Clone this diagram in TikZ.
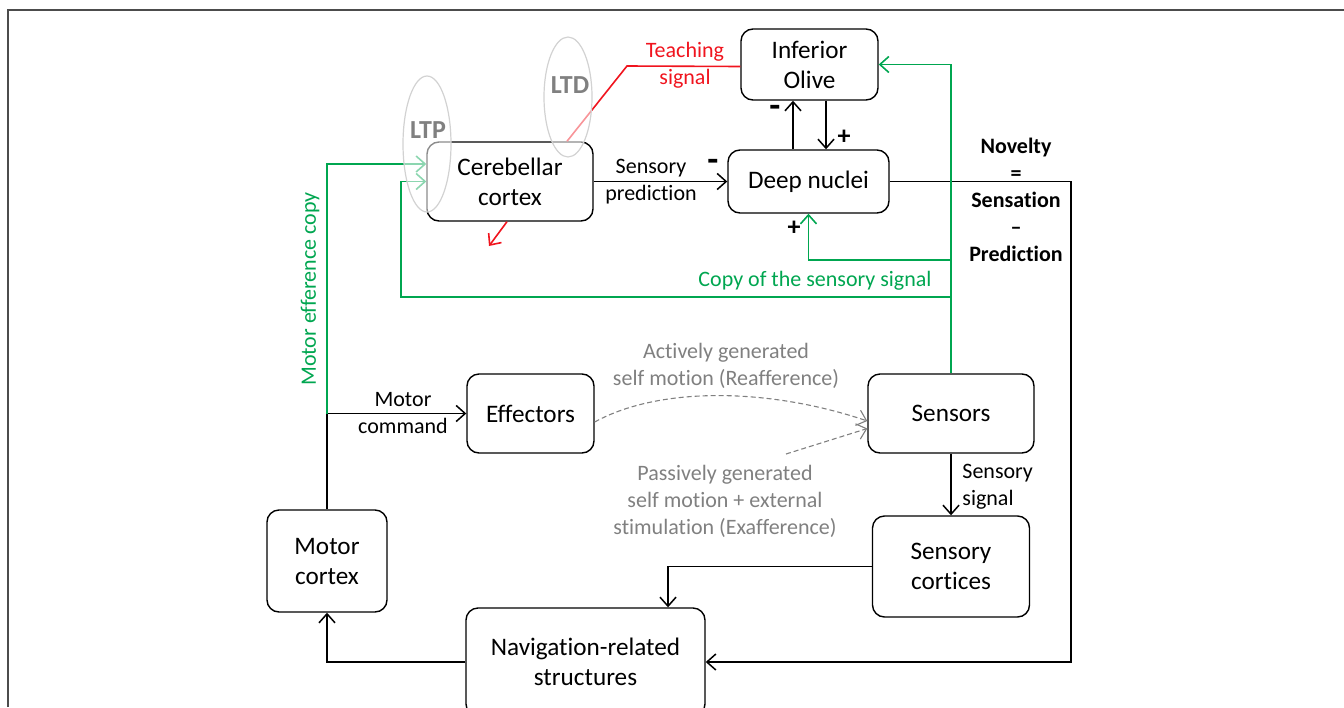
\documentclass[tikz,border=0pt]{standalone}
\usepackage{fontspec}
\setmainfont{Carlito}[Ligatures={TeX,NoCommon}]
\usepackage{tikz}
\usetikzlibrary{arrows.meta, shapes.geometric}
\definecolor{sgreen}{RGB}{0,166,80}
\definecolor{tred}{RGB}{240,20,30}
\definecolor{dgray}{RGB}{128,128,128}

\begin{document}
\begin{tikzpicture}[x=0.5pt, y=-0.5pt,
  >={Straight Barb[length=4.5pt,width=8pt]},
  box/.style={draw, rounded corners=6pt, line width=0.7pt, align=center, inner sep=0pt,
    font=\fontsize{12.6}{15}\selectfont},
  lbl/.style={align=center, inner sep=0pt, font=\fontsize{11}{13.5}\selectfont},
  sgn/.style={inner sep=0pt, font=\bfseries\fontsize{13}{13}\selectfont},
  minus/.style={inner sep=0pt, font=\bfseries\fontsize{18}{18}\selectfont},
  blk/.style={line width=0.75pt},
  grn/.style={sgreen, line width=0.8pt},
  plast/.style={ellipse, draw=gray!35, line width=0.6pt, fill=white, fill opacity=0.55, inner sep=0pt},
  fuzz/.style={dgray, dash pattern=on 2.5pt off 1.5pt, line width=0.55pt}]
\useasboundingbox (0,0) rectangle (1344,707);
\draw[gray!60!black, line width=1pt] (8,707) -- (8,10) -- (1344,10);

% boxes
\node[box, minimum width=68.5pt, minimum height=35.5pt] (io) at (809.5,64.5) {Inferior\\Olive};
\node[box, minimum width=83pt, minimum height=39.5pt] (cc) at (510,181.5) {Cerebellar\\cortex};
\node[box, minimum width=80.5pt, minimum height=31.5pt] (dn) at (808.5,181.5) {Deep nuclei};
\node[box, minimum width=63.5pt, minimum height=39.5pt] (eff) at (530.5,413.5) {Effectors};
\node[box, minimum width=83pt, minimum height=39.5pt] (sens) at (951,413.5) {Sensors};
\node[box, minimum width=78.5pt, minimum height=50.5pt] (scx) at (951,566.5) {Sensory\\cortices};
\node[box, minimum width=60pt, minimum height=51pt] (mcx) at (327,561) {Motor\\cortex};
\node[box, minimum width=119.5pt, minimum height=54pt] (nav) at (585.5,662) {Navigation-related\\structures};

% bend points
\coordinate (upx) at (793,0);
\coordinate (dnx) at (826,0);
\coordinate (gj1) at (951,260);
\coordinate (gj2) at (951,297);
\coordinate (cpl) at (401,297);
\coordinate (mj) at (327,413.5);
\coordinate (rx) at (1071,0);
\coordinate (sx) at (668,0);
\coordinate (tk) at (627,66);
\coordinate (ltdx) at (567,0);
\coordinate (rdx) at (507,0);
\coordinate (rd) at (489,246);
\coordinate (pas) at (786,454);

% black connectors
\draw[blk, ->] (cc.east) -- (dn.west);
\draw[blk, ->] (dn.north -| upx) -- (io.south -| upx);
\draw[blk, ->] (io.south -| dnx) -- (dn.north -| dnx);
\draw[blk, ->] (dn.east) -- (dn.east -| rx) |- (nav.east);
\draw[blk, ->] (mcx.north) |- (eff.west);
\draw[blk, ->] (sens.south) -- (scx.north);
\draw[blk, ->] (scx.west) -| (nav.north -| sx);
\draw[blk, ->] (nav.west) -| (mcx.south);

% green connectors
\draw[grn, ->] (sens.north) |- (io.east);
\draw[grn, ->] (gj1) -| (dn.south);
\draw[grn, ->] (gj2) -- (cpl) |- (cc.west);
\draw[grn, ->] (mj) |- ([yshift=8.75pt]cc.west);

% teaching signal
\draw[tred, line width=0.8pt] ([yshift=-1pt]io.west) -- (tk) -- (cc.north -| ltdx);
\draw[tred, line width=0.8pt, ->] (cc.south -| rdx) -- (rd);

% self motion
\draw[fuzz, ->] ([yshift=-4.25pt]eff.east) .. controls (660,386) and (770,388) .. ([yshift=-3.75pt]sens.west);
\draw[fuzz, ->] (pas) -- ([yshift=-7.5pt]sens.west);

% labels
\node[lbl] (sp) at (651,181.5) {Sensory\\prediction};
\node[minus] (m1) at (713,165) {-};
\node[minus] (m2) at (775,111) {-};
\node[sgn] (p1) at (844,137) {+};
\node[sgn] (p2) at (794,228) {+};
\node[lbl, tred] (teach) at (685,65) {Teaching\\signal};
\node[lbl, sgreen] (copy) at (815,281) {Copy of the sensory signal};
\node[lbl, sgreen, rotate=90] (effcopy) at (310,289) {Motor efference copy};
\node[lbl] (mc) at (403,413.5) {Motor\\command};
\node[lbl, anchor=west, align=left] (ss) at (962,486.5) {Sensory\\signal};
\node[lbl, font=\bfseries\fontsize{11}{13.5}\selectfont] (nov) at (1016,200) {Novelty\\=\\Sensation\\–\\Prediction};
\node[lbl, dgray] (act) at (726,366) {Actively generated\\self motion (Reafference)};
\node[lbl, dgray] (pasl) at (725,501) {Passively generated\\self motion + external\\stimulation (Exafference)};

% plasticity sites
\node[plast, minimum width=24pt, minimum height=68pt] (ltp) at (427,144) {};
\node[plast, minimum width=24pt, minimum height=60pt] (ltd) at (568,97) {};
\node[sgn, dgray] (ltptxt) at (428,130) {LTP};
\node[sgn, dgray] (ltdtxt) at (570,85) {LTD};
\end{tikzpicture}
\end{document}
